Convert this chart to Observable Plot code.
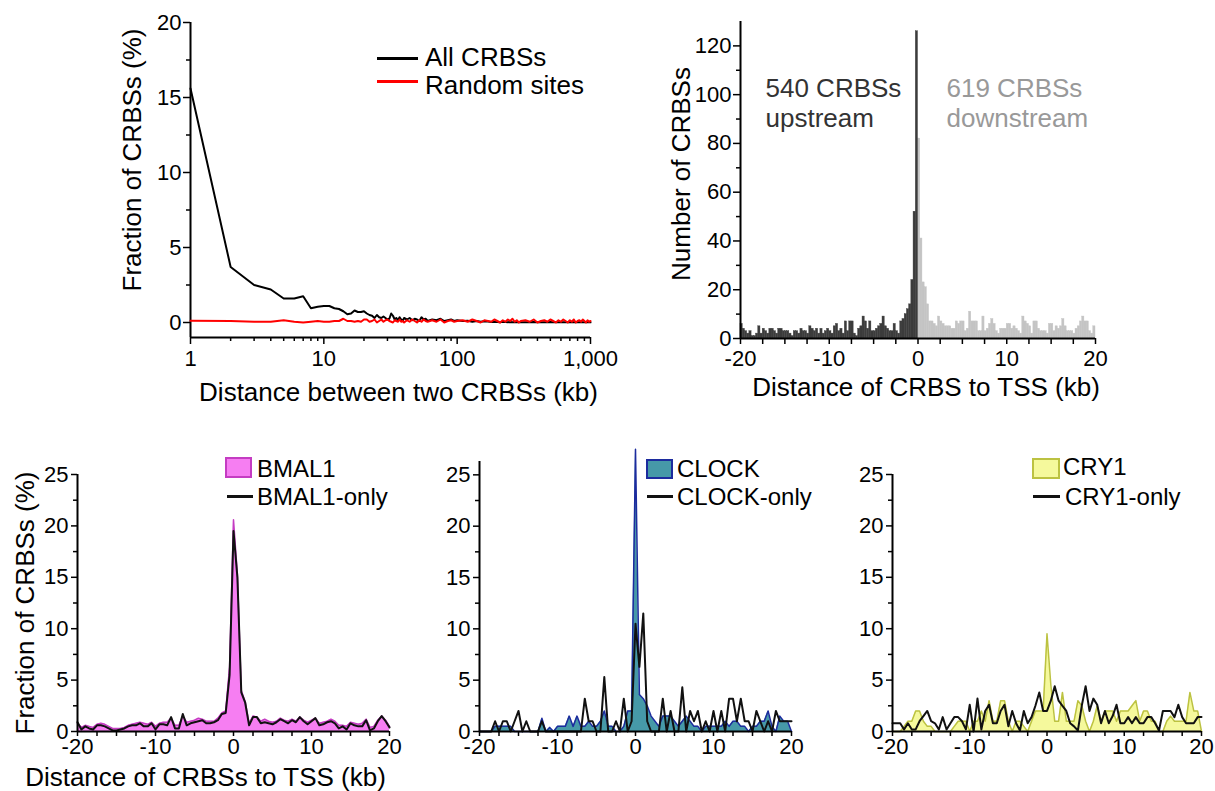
<!DOCTYPE html>
<html><head><meta charset="utf-8">
<script src="https://cdn.jsdelivr.net/npm/d3@7"></script>
<script src="https://cdn.jsdelivr.net/npm/@observablehq/plot@0.6"></script>
<style>
body{margin:0;background:#fff;}
#fig{position:relative;width:1215px;height:791px;overflow:hidden;background:#fff;font-family:"Liberation Sans",Arial,sans-serif;}
</style></head><body><div id="fig"></div><script>
// ---------- data ----------
// Panel A: distance between two CRBSs (kb), fraction (%)
const distKb = [1,2,3,4,5,6,7,8,9,10,11,12,13,14,15,16,17,18,19,20,21,22,23,24,25,26,27,28,29,30,31,32,33,34,35,36,37,38,39,40,
  42,44,46,48,50,52,54,56,58,60, 65,70,75,80,85,90,95,100,
  110,120,130,140,150,160,170,180,190,200,210,220,230,240,250,260,270,280,290,300,
  325,350,375,400,425,450,475,500,525,550,575,600,625,650,675,700,725,750,775,800,825,850,875,900,925,950,975,1000];
const allCRBS = [15.6,3.7,2.5,2.2,1.6,1.6,1.75,0.95,1.05,1.1, 1.1,0.95,0.9,0.75,0.55,0.6,0.8,0.7,0.7,0.75,
  0.6,0.5,0.45,0.3,0.5,0.35,0.3,0.4,0.3,0.2, 0.25,0.6,0.45,0.2,0.3,0.15,0.35,0.2,0.1,0.3,
  0.2,0.3,0.15,0.25,0.2,0.1,0.35,0.2,0.25,0.1, 0.2,0.15,0.25,0.1,0.15,0.2,0.1,0.15,
  0.1,0.12,0.05,0.1,0.05,0.08,0.06,0.03,0.05,0.04, 0.02,0.05,0.03,0.02,0.04,0.02,0.03,0.02,0.04,0.02,
  0.02,0.01,0.03,0.02,0.01,0.02,0.01,0.03,0.02,0.01, 0.02,0.01,0.02,0.01,0.03,0.02,0.01,0.02,0.01,0.02, 0.01,0.02,0.01,0.02,0.03,0.01,0.02,0.01];
const randomSites = [0.12,0.1,0.05,0.05,0.15,0.05,0.0,0.05,0.1,0.05, 0.05,0.1,0.1,0.25,0.1,0.1,0.05,0.1,0.05,0.2,
  0.2,0.05,0.1,0.2,0.0,0.1,0.2,0.05,0.15,0.2, 0.1,0.05,0.0,0.15,0.1,0.05,0.2,0.05,0.1,0.0,
  0.15,0.05,0.2,0.1,0.0,0.15,0.05,0.2,0.1,0.05, 0.15,0.05,0.2,0.0,0.1,0.15,0.05,0.1,
  0.15,0.05,0.2,0.1,0.0,0.15,0.1,0.05,0.2,0.1, 0.0,0.15,0.05,0.2,0.1,0.25,0.05,0.15,0.0,0.1,
  0.15,0.05,0.2,0.0,0.1,0.15,0.05,0.2,0.1,0.0, 0.15,0.05,0.2,0.1,0.0,0.15,0.05,0.2,0.0,0.1, 0.15,0.05,0.2,0.1,0.0,0.15,0.05,0.1];
const logMajor = [1,10,100,1000];
const logMinor = [2,3,4,5,6,7,8,9,20,30,40,50,60,70,80,90,200,300,400,500,600,700,800,900];
const fracTicksA = [0,5,10,15,20];
const fracMinorA = [2.5,7.5,12.5,17.5];
const legendA = ["All CRBSs","Random sites"];

// Panel B: histogram, 0.25 kb bins
const binWidth = 0.25;
const upstreamCounts = [6,4,3,2,3,1,1,2,5,2, 4,3,2,4,4,3,2,4,4,3, 3,3,2,1,3,3,2,4,3,3, 2,5,4,3,4,2,4,2,3,4,
  3,2,5,6,3,4,2,7,3,7, 7,2,1,4,5,9,7,4,7,3, 3,4,5,6,9,5,4,3,3,6, 3,2,7,8,10,12,14,24,52,126];
const downstreamCounts = [82,41,23,21,14,7,7,6,5,9, 7,6,5,5,5,4,4,7,6,7, 7,3,4,11,7,7,7,3,3,9, 3,4,6,8,6,3,2,4,4,4,
  6,6,4,5,4,3,2,9,7,6, 5,2,7,7,4,3,3,3,2,6, 6,3,5,4,5,8,5,3,3,3, 2,4,5,7,9,7,7,3,2,5];
const countTicks = [0,20,40,60,80,100,120];
const countMinor = [10,30,50,70,90,110];
const tssMajor = [-20,-10,0,10,20];
const tssMinor = [-17.5,-15,-12.5,-7.5,-5,-2.5,2.5,5,7.5,12.5,15,17.5];
const sideLabels = [["540 CRBSs","upstream"],["619 CRBSs","downstream"]];

// Bottom panels: fraction (%) vs distance to TSS, 0.5 kb steps
const tssKb = d3.range(-20, 20.001, 0.5);
const bmal1 = [0.8,0.4,0.6,0.5,0.4,0.7,0.8,0.7,0.5,0.3, 0.3,0.3,0.4,0.6,0.7,0.8,0.9,0.8,0.7,0.9,
  0.5,0.8,0.9,0.9,1.3,0.6,0.6,1.5,0.9,1.0, 1.1,1.3,1.2,1.0,1.0,1.0,1.3,1.8,2.0,6.3,
  20.6,15.3,4.0,2.9,0.8,1.5,1.4,1.0,1.2,1.0, 0.9,1.0,1.3,1.1,1.0,1.2,1.0,1.4,1.1,0.9,
  1.1,1.3,0.8,0.9,1.0,1.2,1.0,0.6,0.6,0.5, 0.9,0.8,0.7,0.8,1.2,0.4,0.5,1.1,1.5,1.1, 0.5];
const bmal1Only = [0.9,0.2,0.5,0.3,0.2,0.6,0.6,0.5,0.3,0.1, 0.1,0.2,0.3,0.5,0.6,0.6,0.8,0.5,0.5,0.8,
  0.2,0.7,0.7,0.6,1.4,0.3,0.3,1.7,0.6,0.8, 0.9,1.0,1.1,0.8,0.8,0.9,1.1,1.7,1.8,5.5,
  19.5,15,3.8,2.8,0.6,1.4,1.4,0.8,0.9,0.8, 0.7,0.9,1.2,1.0,0.8,1.1,0.9,1.4,1.0,0.7,
  1.0,1.3,0.6,0.7,0.9,1.0,0.8,0.3,0.5,0.2, 0.8,0.6,0.5,0.5,1.1,0.1,0.3,1.0,1.5,1.0, 0.4];
const clock = [0,0,0,0,0.5,0.5,0.5,0.5,0.5,0, 0,0,0,0,0,0,1.3,0,0.4,0,
  0.5,0.5,0.5,1.5,0.5,1.5,0.5,0.5,1.0,0.5, 0.5,1.0,2.0,0.5,0.5,0,0,0.5,2.0,2.0,
  27.5,3.6,3.2,2.5,1.5,1.0,0.5,1.5,1.5,1.5, 1.0,0.5,1.0,1.5,1.0,0.5,0.5,0,0.5,0.5,
  0.5,0.5,0.5,1.0,0.5,1.0,1.0,0.5,0.5,0, 0.5,0.5,1.0,1.0,2.0,0.5,0,1.5,1.0,1.0, 0];
const clockOnly = [0,0,0,0,1.0,0,1.0,1.0,0,1.0, 2.0,0,1.0,0,0,0,1.0,0,0,0,
  0,0,0,0,0,0,0,3.2,1.0,1.0, 0,0,5.3,0,0,1.0,0,3.2,0,1.0,
  10.5,6.3,11.5,1.0,0,0,0,3.2,0,2.0, 0,0,4.3,0,2.0,1.0,2.0,0,1.0,0,
  2.0,0,2.0,0,3.2,3.2,1.0,3.2,1.0,1.0, 0,2.0,1.0,0,1.0,0,2.0,1.0,1.0,1.0, 1.0];
const cry1 = [0,0,0,0.5,1.0,1.0,2.0,2.0,1.0,0.5, 0.5,0,0,0,0,0,0.5,1.0,1.0,1.0,
  0,1.0,1.0,2.0,1.0,3.0,1.0,1.0,3.0,3.0, 1.0,0,1.0,1.0,0.5,0,1.0,2.0,2.0,2.0,
  9.5,4.5,1.0,1.0,3.8,1.0,1.0,1.0,3.0,2.5, 1.0,0,1.0,2.5,1.0,2.0,2.0,2.0,1.0,2.0,
  2.0,2.0,2.5,3.0,1.0,2.0,2.0,1.0,1.0,0, 0,1.0,1.5,1.0,1.0,1.0,1.0,3.8,2.0,2.0, 0];
const cry1Only = [0.8,0.8,0.8,0.2,0.8,0.2,0.2,1.0,1.5,2.0, 1.0,0.8,0.2,1.4,0.2,0.8,1.4,1.4,1.0,0.2,
  2.6,0,3.2,0.2,2.0,2.6,0.8,0.8,2.0,2.6, 0.5,2.0,0.8,0.1,2.0,0.8,1.4,2.5,3.8,2.0,
  2.0,3.0,4.4,3.0,2.5,2.0,0.8,0.5,0.1,2.5, 4.4,2.0,3.2,2.6,0.8,2.0,0.8,1.5,2.6,0.8,
  0.8,1.4,0.8,1.4,0.8,0.8,1.4,1.4,0.8,0.1, 2.0,2.0,2.0,1.4,2.6,1.4,0.8,0.8,0.8,1.4, 1.4];
const fracTicks = [0,5,10,15,20,25];
const fracMinor = [2.5,7.5,12.5,17.5,22.5];
const factorNames = ["BMAL1","CLOCK","CRY1"];
const onlyNames = ["BMAL1-only","CLOCK-only","CRY1-only"];
const titles = {fracA:"Fraction of CRBSs (%)", distA:"Distance between two CRBSs (kb)",
  numB:"Number of CRBSs", distB:"Distance of CRBS to TSS (kb)",
  fracC:"Fraction of CRBSs (%)", distC:"Distance of CRBSs to TSS (kb)"};

// ---------- drawing ----------
const FONT = '"Liberation Sans", Arial, sans-serif';
const fig = document.getElementById("fig");
const baseStyle = {fontFamily: FONT, fontSize: "22px", background: "transparent", overflow: "visible", color: "#000"};
const str = d => String(d);
const blank = () => "";
const yTitle = (t, dx, dy) => Plot.text([t], {text: d => d, frameAnchor: "left", textAnchor: "middle", lineAnchor: "middle", rotate: -90, dx, dy, fontSize: 26});
const xTitle = (t, dx, dy) => Plot.text([t], {text: d => d, frameAnchor: "bottom", textAnchor: "middle", lineAnchor: "middle", dx, dy, fontSize: 26});
const note = (t, dx, dy, fill) => Plot.text([t], {text: d => d, frameAnchor: "top-left", textAnchor: "start", lineAnchor: "middle", dx, dy, fontSize: 26, fill});
function place(el, left, top) { el.style.position = "absolute"; el.style.left = left + "px"; el.style.top = top + "px"; fig.appendChild(el); }
function addText(txt, left, top, size, color) {
  const s = document.createElement("div"); s.textContent = txt;
  s.style.cssText = `position:absolute;left:${left}px;top:${top}px;font-size:${size}px;line-height:1;color:${color};white-space:nowrap;font-family:${FONT}`;
  fig.appendChild(s);
}
function addBox(left, top, w, h, fill, border) {
  const s = document.createElement("div");
  s.style.cssText = `position:absolute;left:${left}px;top:${top}px;width:${w}px;height:${h}px;background:${fill};border:2px solid ${border};box-sizing:border-box`;
  fig.appendChild(s);
}
function addLine(left, top, w, h, color) {
  const s = document.createElement("div");
  s.style.cssText = `position:absolute;left:${left}px;top:${top}px;width:${w}px;height:${h}px;background:${color}`;
  fig.appendChild(s);
}

// Panel A
const rowsA = distKb.map((d, i) => ({d, all: allCRBS[i], rnd: randomSites[i]}));
const plotA = Plot.plot({
  width: 620, height: 420, marginLeft: 190, marginRight: 30, marginTop: 22, marginBottom: 83,
  style: baseStyle,
  x: {type: "log", domain: [1, 1000], label: null},
  y: {domain: [-1, 20], label: null},
  marks: [
    Plot.axisX({ticks: logMajor, tickFormat: d3.format(","), tickSize: 7, tickPadding: 6, label: null, strokeWidth: 1.5}),
    Plot.axisX({ticks: logMinor, tickFormat: blank, tickSize: 4, label: null, strokeWidth: 1.5}),
    Plot.axisY({ticks: fracTicksA, tickFormat: str, tickSize: 7, tickPadding: 2, label: null, strokeWidth: 1.5}),
    Plot.axisY({ticks: fracMinorA, tickFormat: blank, tickSize: 4, label: null, strokeWidth: 1.5}),
    Plot.ruleX([1], {strokeWidth: 2}),
    Plot.ruleY([-1], {strokeWidth: 2}),
    Plot.line(rowsA, {x: "d", y: "all", stroke: "#000", strokeWidth: 2}),
    Plot.line(rowsA, {x: "d", y: "rnd", stroke: "#ff0000", strokeWidth: 2}),
    yTitle(titles.fracA, -58, -20),
    xTitle(titles.distA, 8, 55)
  ]
});
place(plotA, 0, 0);
addLine(377, 57, 41, 3, "#000"); addText(legendA[0], 425, 44, 26, "#000");
addLine(377, 80, 41, 3, "#ff0000"); addText(legendA[1], 425, 72, 26, "#000");

// Panel B
const upStarts = d3.range(-20, 0, binWidth);
const downStarts = d3.range(0, 20, binWidth);
const histUp = upstreamCounts.map((n, i) => ({x1: upStarts[i], x2: upStarts[i] + binWidth, n}));
const histDown = downstreamCounts.map((n, i) => ({x1: downStarts[i], x2: downStarts[i] + binWidth, n}));
const plotB = Plot.plot({
  width: 595, height: 420, marginLeft: 120, marginRight: 120, marginTop: 21, marginBottom: 82,
  style: baseStyle,
  x: {domain: [-20, 20], label: null},
  y: {domain: [0, 130], label: null},
  marks: [
    Plot.rectY(histDown, {x1: "x1", x2: "x2", y: "n", fill: "#c4c4c4", stroke: "#c4c4c4", strokeWidth: 0.4}),
    Plot.rectY(histUp, {x1: "x1", x2: "x2", y: "n", fill: "#3c3c3c", stroke: "#3c3c3c", strokeWidth: 0.4}),
    Plot.axisX({ticks: tssMajor, tickFormat: str, tickSize: 6, tickPadding: 6, label: null, strokeWidth: 1.5}),
    Plot.axisX({ticks: tssMinor, tickFormat: blank, tickSize: 6, label: null, strokeWidth: 1.5}),
    Plot.axisY({ticks: countTicks, tickFormat: str, tickSize: 7, tickPadding: 2, label: null, strokeWidth: 1.5}),
    Plot.axisY({ticks: countMinor, tickFormat: blank, tickSize: 4, label: null, strokeWidth: 1.5}),
    Plot.ruleX([-20], {strokeWidth: 2}),
    Plot.ruleY([0], {strokeWidth: 2}),
    note(sideLabels[0][0], 25, 67, "#333"),
    note(sideLabels[0][1], 25, 97, "#333"),
    note(sideLabels[1][0], 206, 67, "#999"),
    note(sideLabels[1][1], 206, 97, "#999"),
    yTitle(titles.numB, -59, -6),
    xTitle(titles.distB, 8, 49)
  ]
});
place(plotB, 620, 0);

// Bottom panels
function tssPanel({area, only, fill, stroke, yMax, marginLeft, marginRight, marginTop, withTitles}) {
  const rows = tssKb.map((x, i) => ({x, a: area[i], b: only[i]}));
  const marks = [
    Plot.areaY(rows, {x: "x", y: "a", fill}),
    Plot.line(rows, {x: "x", y: "a", stroke, strokeWidth: 1.5}),
    Plot.line(rows, {x: "x", y: "b", stroke: "#111", strokeWidth: 2}),
    Plot.axisX({ticks: tssMajor, tickFormat: str, tickSize: 5, tickPadding: 2, label: null, strokeWidth: 1.5}),
    Plot.axisX({ticks: tssMinor, tickFormat: blank, tickSize: 5, label: null, strokeWidth: 1.5}),
    Plot.axisY({ticks: fracTicks, tickFormat: str, tickSize: 6, tickPadding: 3, label: null, strokeWidth: 1.5}),
    Plot.axisY({ticks: fracMinor, tickFormat: blank, tickSize: 4, label: null, strokeWidth: 1.5}),
    Plot.ruleX([-20], {strokeWidth: 2}),
    Plot.ruleY([0], {strokeWidth: 2})
  ];
  if (withTitles) {
    marks.push(yTitle(titles.fracC, -52, 0));
    marks.push(xTitle(titles.distC, -28, 46));
  }
  return Plot.plot({
    width: 405, height: 351, marginLeft, marginRight, marginTop, marginBottom: 60,
    style: baseStyle,
    x: {domain: [-20, 20], label: null},
    y: {domain: [0, yMax], label: null},
    marks
  });
}
place(tssPanel({area: bmal1, only: bmal1Only, fill: "#f67ef2", stroke: "#c43cc2", yMax: 25, marginLeft: 77, marginRight: 16, marginTop: 34, withTitles: true}), 0, 440);
place(tssPanel({area: clock, only: clockOnly, fill: "#4699a8", stroke: "#1c2b9e", yMax: 26.3, marginLeft: 74, marginRight: 19, marginTop: 21, withTitles: false}), 405, 440);
place(tssPanel({area: cry1, only: cry1Only, fill: "#f5f99c", stroke: "#bcc241", yMax: 25, marginLeft: 82, marginRight: 14, marginTop: 34, withTitles: false}), 810, 440);

// legends of bottom panels
addBox(225, 457, 27, 21, "#f67ef2", "#c43cc2"); addText(factorNames[0], 257, 457, 24, "#000");
addLine(227, 495, 26, 3, "#111"); addText(onlyNames[0], 257, 485, 24, "#000");
addBox(646, 459, 27, 20, "#4699a8", "#1c2b9e"); addText(factorNames[1], 677, 457, 24, "#000");
addLine(647, 495, 26, 3, "#111"); addText(onlyNames[1], 677, 485, 24, "#000");
addBox(1032, 458, 28, 21, "#f5f99c", "#bcc241"); addText(factorNames[2], 1063, 455, 24, "#000");
addLine(1033, 495, 27, 3, "#111"); addText(onlyNames[2], 1065, 485, 24, "#000");
</script></body></html>
